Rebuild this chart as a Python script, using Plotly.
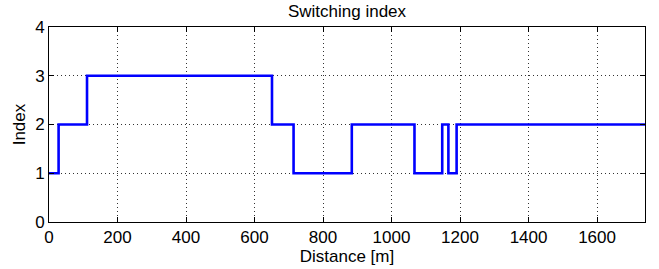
import plotly.graph_objects as go

# Step change positions (m) and index value held from each position onwards
distance = [0, 28, 111, 651, 714, 884, 1067, 1148, 1166, 1190, 1740]
index_val = [1, 2, 3, 2, 1, 2, 1, 2, 1, 2, 2]

x_ticks = [0, 200, 400, 600, 800, 1000, 1200, 1400, 1600]
y_ticks = [0, 1, 2, 3, 4]

font = "Liberation Sans, Arial, Helvetica, sans-serif"
FS = 17

fig = go.Figure()
fig.add_trace(go.Scatter(
    x=distance, y=index_val, mode="lines", line_shape="hv",
    line=dict(color="#0000ff", width=2.6), showlegend=False,
))

fig.update_layout(
    width=659, height=269,
    margin=dict(l=49, r=14, t=27, b=47),
    paper_bgcolor="white", plot_bgcolor="white",
    font=dict(family=font, size=FS, color="black"),
    title=dict(text="Switching index", x=(49 + 645) / 2 / 659, xanchor="center",
               y=1 - 11 / 269, yanchor="middle", font=dict(size=FS)),
)
common = dict(
    ticks="inside", ticklen=5, tickcolor="black", showline=True,
    linecolor="black", linewidth=1, mirror="ticks", showgrid=True,
    gridcolor="#333333", griddash="1px,3px", gridwidth=1, zeroline=False,
    tickfont=dict(size=FS), automargin=False,
)
fig.update_xaxes(
    range=[0, 1740], tickvals=x_ticks,
    title=dict(text="Distance [m]", font=dict(size=FS), standoff=1),
    **common,
)
fig.update_yaxes(
    range=[0, 4], tickvals=y_ticks,
    title=dict(text="Index", font=dict(size=FS), standoff=5),
    **common,
)

fig.write_html("out.html", config={"displayModeBar": False},
               post_script="document.body.style.margin='0';")
